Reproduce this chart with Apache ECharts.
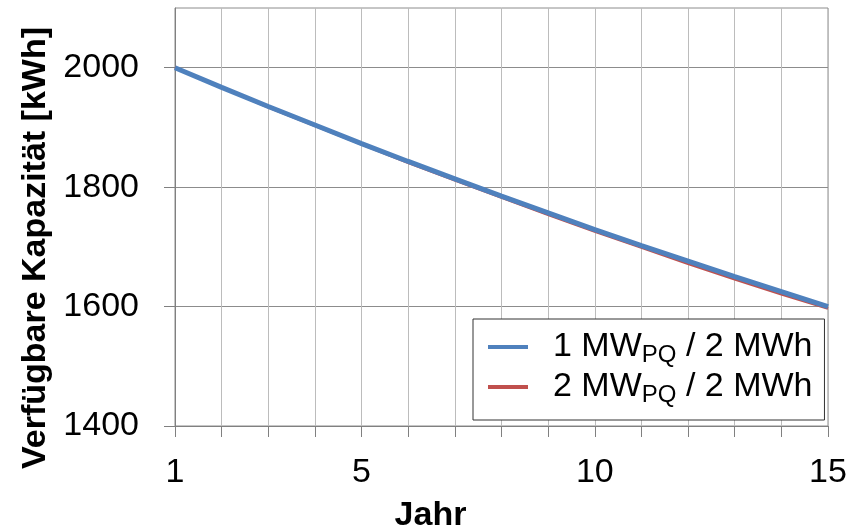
<!DOCTYPE html>
<html><head><meta charset="utf-8">
<script src="https://cdn.jsdelivr.net/npm/echarts@6/dist/echarts.min.js"></script>
<style>html,body{margin:0;padding:0;background:#fff}#c{width:847px;height:527px}</style>
</head><body><div id="c"></div>
<script>
const years = [1,2,3,4,5,6,7,8,9,10,11,12,13,14,15];
const cap1MW = [2000,1967,1935,1904,1873,1843,1814,1785,1757,1729,1702,1676,1650,1625,1600];
const cap2MW = [2000,1967,1934,1903,1872,1841,1812,1783,1754,1726,1699,1672,1646,1621,1597];
const yTickValues = [1400,1600,1800,2000];
const xLabelValues = [1,5,10,15];
const seriesNames = ['1 MWPQ / 2 MWh','2 MWPQ / 2 MWh'];
const legendParts = {
  '1 MWPQ / 2 MWh': ['1 MW','PQ',' / 2 MWh'],
  '2 MWPQ / 2 MWh': ['2 MW','PQ',' / 2 MWh']
};
const FONT = 'Liberation Sans, Arial, sans-serif';
const chart = echarts.init(document.getElementById('c'), null, {renderer:'canvas'});
const pairs = (vals) => years.map((y,i)=>[y, vals[i]]);
chart.setOption({
  animation:false,
  backgroundColor:'#fff',
  grid:{left:175, right:19, top:8, height:418, containLabel:false, outerBoundsMode:'none',
    show:true, borderColor:'#8c8c8c', borderWidth:1, backgroundColor:'transparent'},
  xAxis:{
    type:'value', min:1, max:15, interval:1,
    name:'Jahr', nameLocation:'middle', nameGap:73,
    nameTextStyle:{fontFamily:FONT, fontSize:34, fontWeight:'bold', color:'#000', padding:[0,142,0,0]},
    axisLine:{show:true, lineStyle:{color:'#808080', width:1}},
    axisTick:{show:true, length:11, inside:false, lineStyle:{color:'#808080'}},
    axisLabel:{customValues:xLabelValues, fontFamily:FONT, fontSize:34, color:'#000', margin:30,
      formatter:(v)=>String(v)},
    splitLine:{show:true, lineStyle:{color:'#bcbcbc', width:1}}
  },
  yAxis:{
    type:'value', min:1400, max:2100, interval:200,
    name:'Verfügbare Kapazität [kWh]', nameLocation:'middle', nameRotate:90, nameGap:121,
    nameTextStyle:{fontFamily:FONT, fontSize:34, fontWeight:'bold', color:'#000', padding:[0,62,0,0]},
    axisLine:{show:true, lineStyle:{color:'#808080', width:1}},
    axisTick:{show:true, length:11, inside:false, customValues:yTickValues, lineStyle:{color:'#808080'}},
    axisLabel:{customValues:yTickValues, fontFamily:FONT, fontSize:34, color:'#000', margin:36,
      formatter:(v)=>String(v)},
    splitLine:{show:true, lineStyle:{color:'#8c8c8c', width:1}}
  },
  legend:{
    orient:'vertical', left:473, top:319,
    backgroundColor:'#fff', borderColor:'#333', borderWidth:1,
    padding:[11,12,13,15], itemGap:3, itemWidth:40, itemHeight:4, icon:'rect',
    data:seriesNames,
    formatter:(name)=>{const p=legendParts[name]; return '{m|'+p[0]+'}{s|'+p[1]+'}{m|'+p[2]+'}';},
    textStyle:{
      padding:[0,0,0,20],
      rich:{
        m:{fontFamily:FONT, fontSize:34, color:'#000', lineHeight:40, verticalAlign:'middle'},
        s:{fontFamily:FONT, fontSize:24, color:'#000', lineHeight:24, verticalAlign:'bottom'}
      }
    }
  },
  series:[
    {name:seriesNames[0], type:'line', data:pairs(cap1MW), showSymbol:false, symbol:'none', z:3,
     lineStyle:{color:'#4F81BD', width:5}, itemStyle:{color:'#4F81BD'}},
    {name:seriesNames[1], type:'line', data:pairs(cap2MW), showSymbol:false, symbol:'none', z:2,
     lineStyle:{color:'#C0504D', width:3}, itemStyle:{color:'#C0504D'}}
  ]
});
</script></body></html>
